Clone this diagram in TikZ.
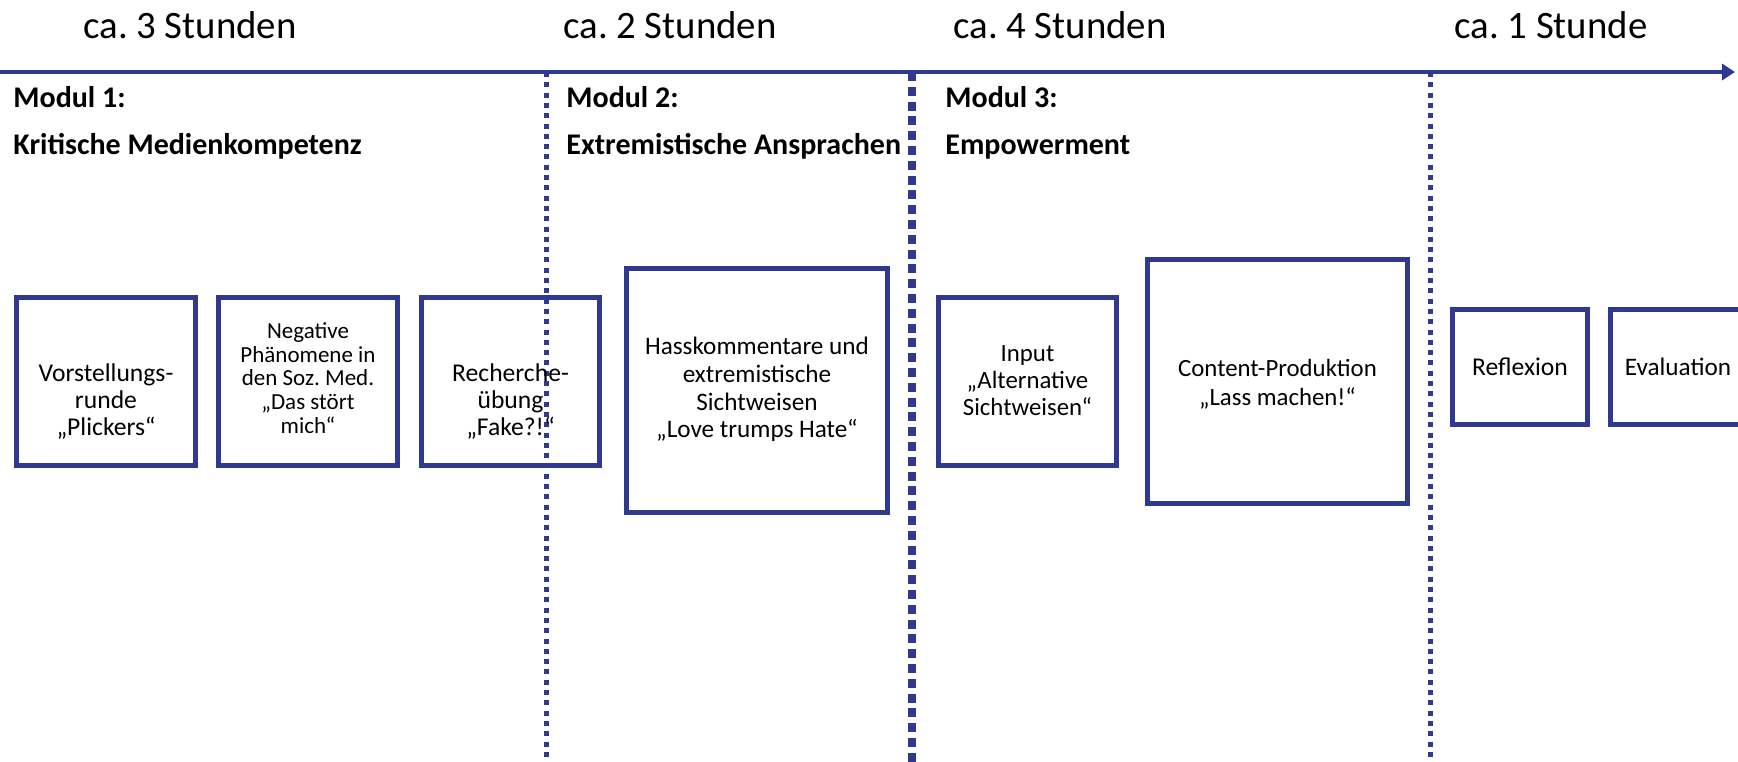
\documentclass[tikz,border=0pt]{standalone}
\usepackage{fontspec}
\setmainfont{Carlito}
\usetikzlibrary{arrows.meta}
\definecolor{modblau}{RGB}{47,57,143}
\frenchspacing

\tikzset{
    grenze/.style={modblau, line width=2.5pt, dash pattern=on 2.5pt off 2.65pt},
    hauptgrenze/.style={modblau, line width=4pt, dash pattern=on 4.5pt off 2.9pt},
    baustein/.style={draw=modblau, line width=2.8pt, inner sep=0pt},
    zeit/.style={anchor=base, inner sep=0pt, font=\fontsize{19.4}{22}\selectfont},
    modul/.style={anchor=base west, inner sep=0pt, align=left, font=\bfseries\fontsize{15}{23.25}\selectfont},
    inhalt/.style={inner sep=0pt, align=center, font=\fontsize{12.6}{13.5}\selectfont},
}

\begin{document}
\begin{tikzpicture}[x=0.5pt, y=-0.5pt, >={Triangle[length=6.5pt, width=8pt]}]
    \useasboundingbox (0,0) rectangle (1738,761);

    % Grenzen zwischen den Modulen
    \coordinate (g1-oben) at (546,72);   \coordinate (g1-unten) at (546,770);
    \coordinate (g2-oben) at (912,72);   \coordinate (g2-unten) at (912,770);
    \coordinate (g3-oben) at (1430,72);  \coordinate (g3-unten) at (1430,770);
    \draw[grenze] (g1-oben) -- (g1-unten);
    \draw[hauptgrenze] (g2-oben) -- (g2-unten);
    \draw[grenze] (g3-oben) -- (g3-unten);

    % Zeitachse
    \coordinate (start) at (0,72);
    \coordinate (ende) at (1735,72);
    \draw[->, modblau, line width=2.4pt] (start) -- (ende);

    % Dauer
    \node[zeit] (dauer1) at (190,38) {ca. 3 Stunden};
    \node[zeit] (dauer2) at (670,38) {ca. 2 Stunden};
    \node[zeit] (dauer3) at (1060,38) {ca. 4 Stunden};
    \node[zeit] (dauer4) at (1551,38) {ca. 1 Stunde};

    % Module
    \node[modul] (modul1) at (13,154) {Modul 1:\\Kritische Medienkompetenz};
    \node[modul] (modul2) at (566,154) {Modul 2:\\Extremistische Ansprachen};
    \node[modul] (modul3) at (945,154) {Modul 3:\\Empowerment};

    % Bausteine Modul 1
    \node[baustein, minimum width=89.5pt, minimum height=84pt] (vorstellung) at (106,381.5) {};
    \node[inhalt, font=\fontsize{12.8}{13.5}\selectfont] (vorstellung-text) at ([yshift=-10pt]vorstellung.center)
        {Vorstellungs-\\runde\\„Plickers“};
    \node[baustein, minimum width=89.5pt, minimum height=84pt] (negativ) at (308,381.5) {};
    \node[inhalt, font=\fontsize{11.5}{11.9}\selectfont] (negativ-text) at ([yshift=1.75pt]negativ.center)
        {Negative\\Phänomene in\\den Soz. Med.\\„Das stört\\mich“};
    \node[baustein, minimum width=89pt, minimum height=84pt] (recherche) at (510.5,381.5) {};
    \node[inhalt, font=\fontsize{12.8}{13.5}\selectfont] (recherche-text) at ([yshift=-10pt]recherche.center)
        {Recherche-\\übung\\„Fake?!“};

    % Baustein Modul 2
    \node[baustein, minimum width=130.5pt, minimum height=122pt] (hass) at (757,390.5) {};
    \node[inhalt, font=\fontsize{12.6}{13.85}\selectfont] (hass-text) at ([yshift=0.5pt]hass.center)
        {Hasskommentare und\\extremistische\\Sichtweisen\\„Love trumps Hate“};

    % Bausteine Modul 3
    \node[baustein, minimum width=89pt, minimum height=84pt] (input) at (1027.5,381.5) {};
    \node[inhalt, font=\fontsize{12.4}{13.5}\selectfont] (input-text) at ([yshift=0.25pt]input.center)
        {Input\\„Alternative\\Sichtweisen“};
    \node[baustein, minimum width=130pt, minimum height=122pt] (content) at (1277.5,381.5) {};
    \node[inhalt, font=\fontsize{12.4}{14.4}\selectfont] (content-text) at ([yshift=-1.5pt]content.center)
        {Content-Produktion\\„Lass machen!“};

    % Abschluss
    \node[baustein, minimum width=67.5pt, minimum height=57.5pt] (reflexion) at (1520,367) {};
    \node[inhalt, font=\fontsize{12.8}{13.5}\selectfont] (reflexion-text) at (reflexion.center) {Reflexion};
    \node[baustein, minimum width=67.5pt, minimum height=57.5pt] (evaluation) at (1678,367) {};
    \node[inhalt, font=\fontsize{12.6}{13.5}\selectfont] (evaluation-text) at (evaluation.center) {Evaluation};
\end{tikzpicture}
\end{document}
